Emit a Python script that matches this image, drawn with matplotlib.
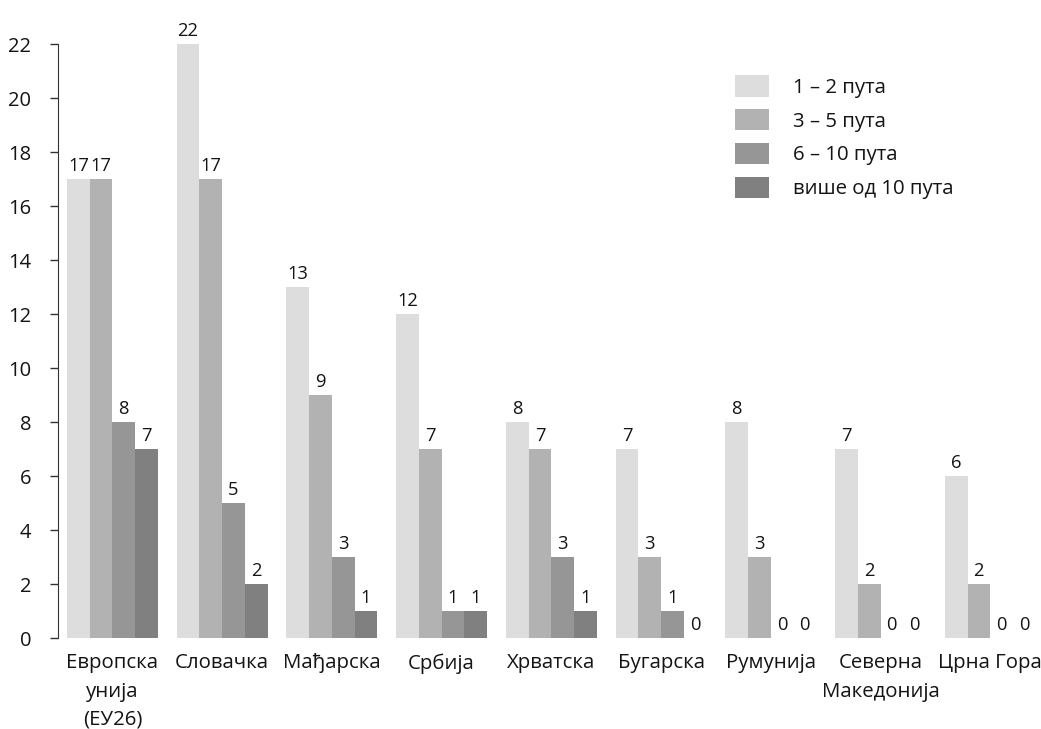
import matplotlib
matplotlib.use("Agg")
import matplotlib.pyplot as plt
import numpy as np

plt.rcParams['font.family'] = ['Open Sans', 'DejaVu Sans']

countries = ["Европска\nунија\n(ЕУ26)", "Словачка", "Мађарска", "Србија",
             "Хрватска", "Бугарска", "Румунија", "Северна\nМакедонија", "Црна Гора"]
series_names = ["1 – 2 пута", "3 – 5 пута", "6 – 10 пута", "више од 10 пута"]
once_twice = [17, 22, 13, 12, 8, 7, 8, 7, 6]
three_five = [17, 17, 9, 7, 7, 3, 3, 2, 2]
six_ten = [8, 5, 3, 1, 3, 1, 0, 0, 0]
over_ten = [7, 2, 1, 1, 1, 0, 0, 0, 0]
yticks = [0, 2, 4, 6, 8, 10, 12, 14, 16, 18, 20, 22]

colors = ['#dddddd', '#b2b2b2', '#969696', '#808080']
text_col = '#141414'
fs = 14.7
fs_num = 13.2

fig = plt.figure(figsize=(10.41, 7.29), dpi=100)
ax = fig.add_axes([57.6 / 1041, 91 / 729, 982 / 1041, 594 / 729])

x = np.arange(len(countries))
w = 0.207
all_series = [once_twice, three_five, six_ten, over_ten]
for i, vals in enumerate(all_series):
    bars = ax.bar(x + (i - 1.5) * w, vals, width=w, color=colors[i],
                  label=series_names[i])
    ax.bar_label(bars, padding=3, fontsize=fs_num, color=text_col)

ax.set_xlim(-0.5, 8.45)
ax.set_ylim(0, 22)
ax.set_yticks(yticks)
ax.set_yticklabels([str(v) for v in yticks], fontsize=14.5, color=text_col)
ax.set_xticks(x)
ax.set_xticklabels(countries, fontsize=fs, color=text_col, linespacing=1.55)
ax.tick_params(axis='x', length=0, pad=11)
ax.tick_params(axis='y', length=6, width=1, pad=13,
               color='#333333', direction='out')
for side in ['top', 'right', 'bottom']:
    ax.spines[side].set_visible(False)
ax.spines['left'].set_color('#333333')

leg = ax.legend(loc='upper left', bbox_to_anchor=(735 / 1041, 1 - 75 / 729),
                bbox_transform=fig.transFigure, frameon=False, fontsize=fs,
                borderpad=0, borderaxespad=0, handlelength=1.65,
                handleheight=1.25, labelspacing=0.55, handletextpad=1.2)
for t in leg.get_texts():
    t.set_color(text_col)

fig.savefig("out.png", dpi=100)
